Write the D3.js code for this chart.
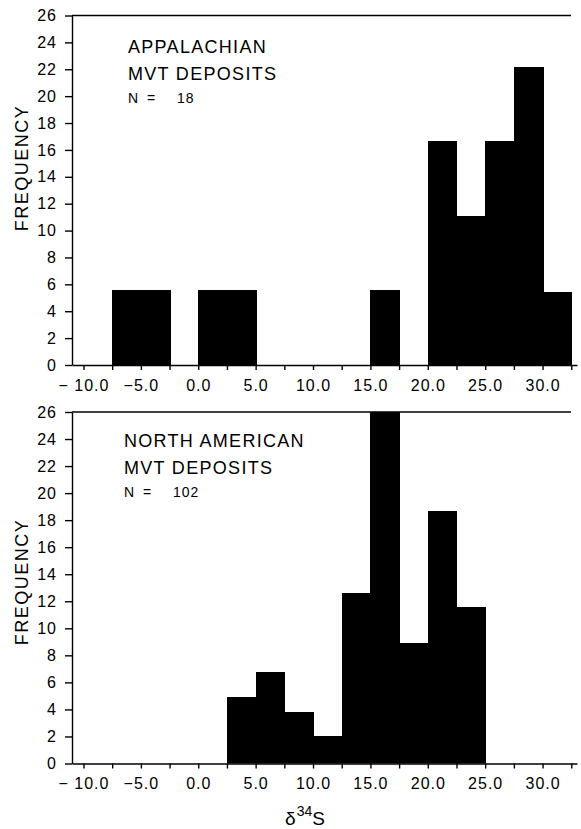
<!DOCTYPE html>
<html>
<head>
<meta charset="utf-8">
<script src="https://cdn.jsdelivr.net/npm/d3@7"></script>
<style>
  body { margin: 0; background: #fff; }
  svg { display: block; font-family: "Liberation Sans", Arial, sans-serif; }
  .axis path, .axis line { stroke: #000; stroke-width: 1.4; }
  .axis text { font-size: 16px; fill: #000; letter-spacing: 1px; }
</style>
</head>
<body>
<div id="chart"></div>
<script>
// bin left edges (permil) and frequency (%) for each histogram, 2.5 permil bins
var binWidth = 2.5;
var appalachianBins = [-7.5, -5.0, 0.0, 2.5, 15.0, 20.0, 22.5, 25.0, 27.5, 30.0];
var appalachianFreq = [5.6, 5.6, 5.6, 5.6, 5.6, 16.7, 11.1, 16.7, 22.2, 5.4];
var northAmBins = [2.5, 5.0, 7.5, 10.0, 12.5, 15.0, 17.5, 20.0, 22.5];
var northAmFreq = [4.9, 6.8, 3.8, 2.0, 12.6, 30.4, 8.9, 18.7, 11.6];

var xTicks = d3.range(-10, 33, 2.5);
var yTicks = d3.range(0, 27, 2);

var width = 581, height = 829;

var svg = d3.select('#chart').append('svg')
    .attr('width', width)
    .attr('height', height);

var x = d3.scaleLinear().domain([-11, 33]).range([72, 577]);

function drawPanel(cfg) {
    var y = d3.scaleLinear().domain([0, 26]).range([cfg.bottom, cfg.top]);
    var g = svg.append('g');

    g.append('clipPath').attr('id', cfg.id)
        .append('rect')
        .attr('x', x.range()[0]).attr('y', cfg.top)
        .attr('width', x.range()[1] - x.range()[0])
        .attr('height', cfg.bottom - cfg.top);

    g.append('g').attr('clip-path', 'url(#' + cfg.id + ')')
        .selectAll('rect')
        .data(cfg.bins.map(function(b, i) { return {x0: b, v: cfg.freq[i]}; }))
        .enter().append('rect')
        .attr('x', function(d) { return Math.round(x(d.x0)); })
        .attr('width', function(d) { return Math.round(x(d.x0 + binWidth)) - Math.round(x(d.x0)) + 1; })
        .attr('y', function(d) { return Math.round(y(d.v)); })
        .attr('height', function(d) { return Math.round(y(0)) - Math.round(y(d.v)); })
        .attr('fill', '#000')
        .attr('shape-rendering', 'crispEdges');

    // top frame line
    g.append('line')
        .attr('x1', x.range()[0]).attr('x2', x.range()[1] - 6)
        .attr('y1', y(26)).attr('y2', y(26))
        .attr('stroke', '#000').attr('stroke-width', 1.4);

    g.append('g').attr('class', 'axis')
        .attr('transform', 'translate(' + x.range()[0] + ',0)')
        .call(d3.axisLeft(y).tickValues(yTicks).tickSize(7).tickPadding(8).tickSizeOuter(0));

    g.append('g').attr('class', 'axis')
        .attr('transform', 'translate(0,' + y(0) + ')')
        .call(d3.axisBottom(x).tickValues(xTicks).tickSize(5).tickPadding(cfg.tickPad).tickSizeOuter(0)
            .tickFormat(function(d) {
                if (d % 5 !== 0) return '';
                return d < 0 ? '\u2212' + (d === -10 ? ' ' : '') + Math.abs(d).toFixed(1) : d.toFixed(1);
            }));

    g.append('text')
        .attr('transform', 'translate(28,' + cfg.yLabelMid + ') rotate(-90)')
        .attr('text-anchor', 'middle')
        .style('font-size', '18px')
        .style('letter-spacing', '1.5px')
        .text('FREQUENCY');

    var t = g.append('text')
        .style('font-size', '18px')
        .style('letter-spacing', '1.3px');
    cfg.title.forEach(function(line, i) {
        t.append('tspan').attr('x', cfg.titleX).attr('y', cfg.titleY + i * 27).text(line);
    });

    var n = g.append('text')
        .attr('y', cfg.titleY + 50)
        .style('font-size', '14px');
    n.append('tspan').attr('x', cfg.titleX).text('N');
    n.append('tspan').attr('x', cfg.titleX + 19).text('=');
    n.append('tspan').attr('x', cfg.titleX + 49).style('letter-spacing', '1px').text(cfg.n);
}

drawPanel({
    id: 'clipTop', top: 15.5, bottom: 365, tickPad: 10,
    bins: appalachianBins, freq: appalachianFreq,
    title: ['APPALACHIAN', 'MVT DEPOSITS'], n: '18',
    titleX: 128, titleY: 53, yLabelMid: 168
});

drawPanel({
    id: 'clipBottom', top: 412, bottom: 763.5, tickPad: 9,
    bins: northAmBins, freq: northAmFreq,
    title: ['NORTH AMERICAN', 'MVT DEPOSITS'], n: '102',
    titleX: 124, titleY: 447, yLabelMid: 582
});

var xl = svg.append('text')
    .attr('x', 305).attr('y', 825)
    .attr('text-anchor', 'middle')
    .style('font-size', '19px');
xl.append('tspan').text('\u03b4');
xl.append('tspan').attr('dy', -9).attr('dx', 1).style('font-size', '14px').text('34');
xl.append('tspan').attr('dy', 9).text('S');
</script>
</body>
</html>
